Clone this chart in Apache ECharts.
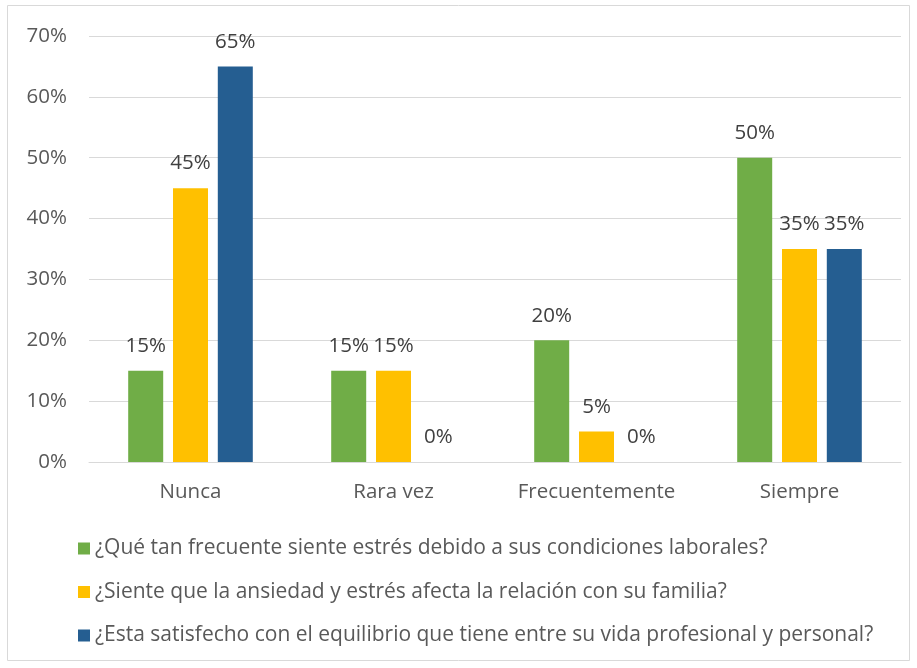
<!DOCTYPE html>
<html><head><meta charset="utf-8">
<script src="https://cdn.jsdelivr.net/npm/echarts@6/dist/echarts.min.js"></script>
<style>html,body{margin:0;padding:0;background:#fff}#c{width:917px;height:668px}</style>
</head><body><div id="c"></div>
<script>
const categories = ['Nunca', 'Rara vez', 'Frecuentemente', 'Siempre'];
const seriesNames = [
  '¿Qué tan frecuente siente estrés debido a sus condiciones laborales?',
  '¿Siente que la ansiedad y estrés afecta la relación con su familia?',
  '¿Esta satisfecho con el equilibrio que tiene entre su vida profesional y personal?'
];
const stress = [15, 15, 20, 50];
const family = [45, 15, 5, 35];
const balance = [65, 0, 0, 35];
const yTicks = [0, 10, 20, 30, 40, 50, 60, 70];
const colors = ['#70AD47', '#FFC000', '#255E91'];
const FONT = 'Open Sans';
const FS = 20.5;
const chart = echarts.init(document.getElementById('c'));
const values = [stress, family, balance];
chart.setOption({
  animation: false,
  textStyle: {fontFamily: FONT},
  graphic: [{type: 'rect', shape: {x: 7.5, y: 5.5, width: 902, height: 655}, style: {fill: 'none', stroke: '#D9D9D9', lineWidth: 1}}],
  grid: {left: 89, right: 16, top: 36, bottom: 206},
  legend: {
    orient: 'vertical', left: 73, top: 533, itemWidth: 12, itemHeight: 12, itemGap: 22.5,
    icon: 'rect',
    textStyle: {fontSize: 21, color: '#595959', fontFamily: FONT},
    data: seriesNames
  },
  xAxis: {
    type: 'category', data: categories,
    axisLine: {lineStyle: {color: '#D9D9D9', width: 1}},
    axisTick: {show: false},
    axisLabel: {fontSize: FS, color: '#595959', margin: 20, interval: 0}
  },
  yAxis: {
    type: 'value', min: 0, max: 70, interval: 10,
    axisLabel: {fontSize: FS, color: '#595959', margin: 22, formatter: v => v + '%'},
    splitLine: {lineStyle: {color: '#D9D9D9', width: 1}},
    axisLine: {show: false}, axisTick: {show: false}
  },
  series: values.map((vals, i) => ({
    name: seriesNames[i], type: 'bar', data: vals,
    barWidth: 35, barGap: '28%',
    itemStyle: {color: colors[i]},
    label: {show: true, position: 'top', distance: 14, fontSize: FS, color: '#404040', formatter: p => p.value + '%'}
  }))
});
</script></body></html>
